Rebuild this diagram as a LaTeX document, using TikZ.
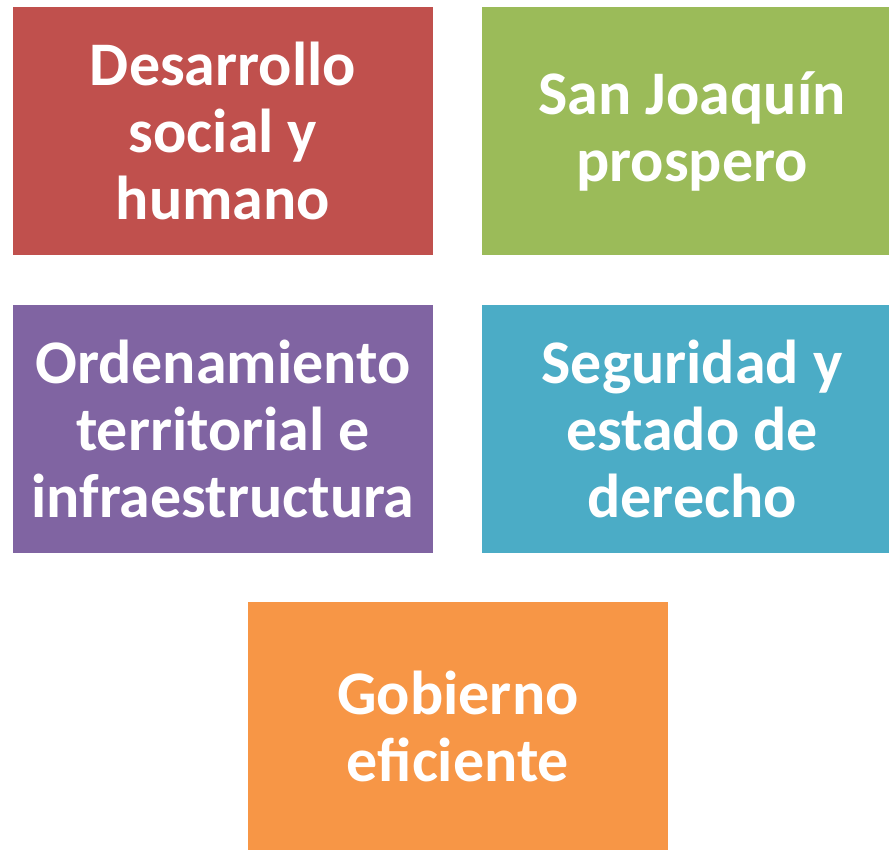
\documentclass[tikz,border=0pt]{standalone}
\usepackage{fontspec}
\setmainfont{Carlito}
\definecolor{rojo}{HTML}{C0504D}
\definecolor{verde}{HTML}{9BBB59}
\definecolor{morado}{HTML}{8064A2}
\definecolor{azul}{HTML}{4BACC6}
\definecolor{naranja}{HTML}{F79646}
\tikzset{
  caja/.style={minimum width=420pt, minimum height=248pt, inner sep=0pt,
    text=white, align=center, font=\fontsize{62}{67}\selectfont\bfseries}
}
\begin{document}
\begin{tikzpicture}[x=1pt, y=-1pt]
\useasboundingbox (0,0) rectangle (889,849);
\clip (0,0) rectangle (889,849);

\node[caja, fill=rojo] (desarrollo) at (223,131) {Desarrollo\\social y\\humano};
\node[caja, fill=verde] (sanjoaquin) at (692,131) {San Joaquín\\prospero};
\node[caja, fill=morado] (ordenamiento) at (223,429) {Ordenamiento\\territorial e\\infraestructura};
\node[caja, fill=azul] (seguridad) at (692,429) {Seguridad y\\estado de\\derecho};
\node[caja, fill=naranja] (gobierno) at (458,726) {Gobierno\\eficiente};
\end{tikzpicture}
\end{document}
